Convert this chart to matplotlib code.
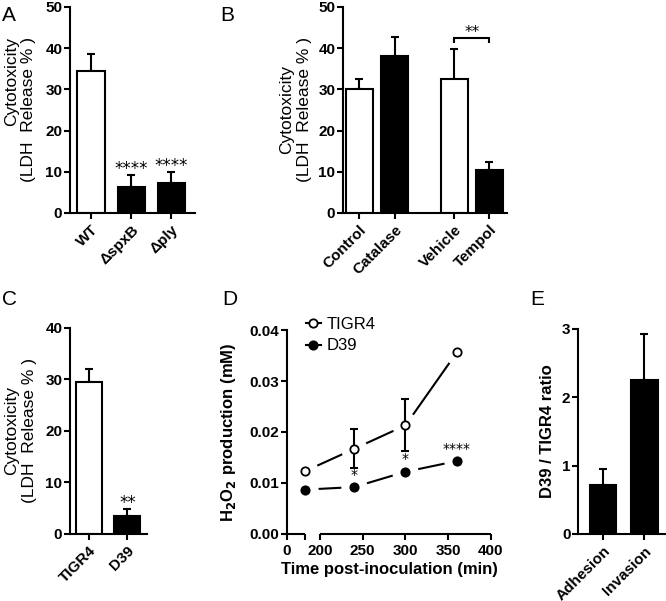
import matplotlib
matplotlib.use('Agg')
import matplotlib.pyplot as plt
from matplotlib.lines import Line2D
import numpy as np

plt.rcParams['font.family'] = ['Liberation Sans', 'DejaVu Sans']
plt.rcParams['font.weight'] = 'bold'
plt.rcParams['axes.labelweight'] = 'bold'
plt.rcParams['axes.linewidth'] = 1.5

# panel A
a_labels = ['WT', 'ΔspxB', 'Δply']
a_means = [34.4, 6.2, 7.3]
a_tops = [38.7, 9.1, 9.9]
a_colors = ['white', 'black', 'black']
a_stars = ['', '****', '****']

# panel B
b_labels = ['Control', 'Catalase', 'Vehicle', 'Tempol']
b_pos = [0, 1, 2.7, 3.7]
b_means = [30.2, 38.0, 32.5, 10.4]
b_tops = [32.6, 42.7, 39.9, 12.3]
b_colors = ['white', 'black', 'white', 'black']

# panel C
c_labels = ['TIGR4', 'D39']
c_means = [29.5, 3.4]
c_tops = [32.0, 4.8]
c_colors = ['white', 'black']
c_stars = ['', '**']

# panel D
times = [120, 240, 300, 360]
tigr4 = [0.0123, 0.0167, 0.0213, 0.0356]
tigr4_err = [0, 0.0038, 0.0051, 0]
d39 = [0.0087, 0.0092, 0.0122, 0.0143]
d39_stars = ['', '*', '*', '****']
d_yticks = [0, 0.01, 0.02, 0.03, 0.04]
d_xticks = [0, 120, 200, 250, 300, 350, 400]
d_xticklabels = ['0', '', '200', '250', '300', '350', '400']

# panel E
e_labels = ['Adhesion', 'Invasion']
e_means = [0.71, 2.26]
e_tops = [0.95, 2.93]
e_colors = ['black', 'black']

LW = 1.5
TICK_FS = 11
STAR_FONT = 'DejaVu Sans'


def style(ax):
    ax.spines['top'].set_visible(False)
    ax.spines['right'].set_visible(False)
    ax.tick_params(direction='out', length=4, width=LW, pad=1.5, labelsize=TICK_FS)


def bar_panel(ax, pos, means, tops, colors, labels, width, xlim, ylim, yticks):
    means = np.array(means)
    tops = np.array(tops)
    ax.errorbar(pos, means, yerr=[np.zeros(len(means)), tops - means], fmt='none',
                ecolor='black', elinewidth=LW, capsize=3, capthick=LW, zorder=1.5)
    ax.bar(pos, means, width=width, color=colors, edgecolor='black', linewidth=LW, zorder=2)
    ax.set_xlim(xlim)
    ax.set_ylim(ylim)
    ax.set_yticks(yticks)
    ax.set_xticks(pos)
    ax.set_xticklabels(labels, rotation=45, ha='right', rotation_mode='anchor',
                       fontsize=TICK_FS)
    style(ax)
    ax.tick_params(axis='x', pad=3)


def stars(ax, xs, ys, texts, fs=12, off=1):
    for x, y, t in zip(xs, ys, texts):
        if t:
            ax.annotate(t, (x, y), xytext=(0, off), textcoords='offset points',
                        ha='center', va='baseline', fontsize=fs, family=STAR_FONT,
                        fontweight='normal')


fig = plt.figure(figsize=(6.66, 6.01), dpi=100)

# A
axA = fig.add_axes([0.1051, 0.6456, 0.1877, 0.3428])
bar_panel(axA, [0, 1, 2], a_means, a_tops, a_colors, a_labels, 0.68,
          (-0.525, 2.59), (0, 50), range(0, 51, 10))
stars(axA, [0, 1, 2], a_tops, a_stars)
axA.set_ylabel('Cytotoxicity\n(LDH  Release % )', fontsize=12.5, fontweight='normal',
               multialignment='right')
axA.yaxis.set_label_coords(-0.27, 0.5)

# B
axB = fig.add_axes([0.5150, 0.6456, 0.2462, 0.3428])
bar_panel(axB, b_pos, b_means, b_tops, b_colors, b_labels, 0.77,
          (-0.47, 4.2), (0, 50), range(0, 51, 10))
x1, x2 = b_pos[2], b_pos[3]
axB.plot([x1, x1, x2, x2], [41.6, 42.4, 42.4, 41.6], color='black', lw=LW,
         solid_joinstyle='miter')
axB.text((x1 + x2) / 2, 42.6, '**', ha='center', va='baseline', fontsize=11,
         family=STAR_FONT, fontweight='normal')
axB.set_ylabel('Cytotoxicity\n(LDH  Release % )', fontsize=12.5, fontweight='normal')
axB.yaxis.set_label_coords(-0.19, 0.5)

# C
axC = fig.add_axes([0.1051, 0.1115, 0.1156, 0.3428])
bar_panel(axC, [0, 1], c_means, c_tops, c_colors, c_labels, 0.675,
          (-0.49, 1.51), (0, 40), range(0, 41, 10))
stars(axC, [0, 1], c_tops, c_stars, fs=12)
axC.set_ylabel('Cytotoxicity\n(LDH  Release % )', fontsize=12.5, fontweight='normal')
axC.yaxis.set_label_coords(-0.43, 0.5)

# D  (broken time axis)
brk_t = [-1000, 0, 120, 200, 400, 2000]
brk_u = [-150, 0, 18, 33, 204, 204 + 1600 * 171 / 200]


def fwd(t):
    return np.interp(t, brk_t, brk_u)


def inv(u):
    return np.interp(u, brk_u, brk_t)


axD = fig.add_axes([0.4309, 0.1115, 0.3063, 0.3394])
axD.set_xscale('function', functions=(fwd, inv))
axD.set_xlim(0, 400)
axD.set_ylim(0, 0.04)
axD.plot(times, tigr4, color='black', lw=LW, zorder=2)
axD.plot(times, d39, color='black', lw=LW, zorder=2)
# white halo so the connecting lines stop short of each marker
axD.plot(times, tigr4, 'o', ms=19, mfc='white', mec='none', zorder=2.2)
axD.plot(times, d39, 'o', ms=19, mfc='white', mec='none', zorder=2.2)
axD.errorbar(times, tigr4, yerr=tigr4_err, fmt='none', ecolor='black',
             elinewidth=LW, capsize=3.2, capthick=LW, zorder=2.3)
axD.plot(times, tigr4, 'o', ms=6, mfc='white', mec='black', mew=1.3, zorder=2.5)
axD.plot(times, d39, 'o', ms=6, mfc='black', mec='black', mew=1.3, zorder=2.5)
stars(axD, times, d39, d39_stars, fs=10, off=6)
axD.spines['bottom'].set_visible(False)
axD.plot([0, 120], [0, 0], color='black', lw=LW, clip_on=False, solid_capstyle='butt')
axD.plot([200, 400], [0, 0], color='black', lw=LW, clip_on=False, solid_capstyle='butt')
axD.set_xticks(d_xticks, labels=d_xticklabels)
axD.set_yticks(d_yticks, labels=['%.2f' % v for v in d_yticks])
style(axD)
axD.tick_params(axis='x', pad=3)
axD.set_xlabel('Time post-inoculation (min)', fontsize=12)
axD.xaxis.set_label_coords(0.5, -0.137)
axD.set_ylabel('H$_\\mathbf{2}$O$_\\mathbf{2}$ production (mM)', fontsize=12)
axD.yaxis.set_label_coords(-0.24, 0.5)
handles = [Line2D([], [], color='black', lw=LW, marker='o', ms=6, mfc='white', mec='black', mew=1.3),
           Line2D([], [], color='black', lw=LW, marker='o', ms=6, mfc='black', mec='black', mew=1.3)]
axD.legend(handles, ['TIGR4', 'D39'], loc='upper left', bbox_to_anchor=(0.093, 1.065),
           frameon=False, prop={'size': 12, 'weight': 'normal'}, handlelength=0.9,
           handletextpad=0.35, labelspacing=0.4, borderpad=0, borderaxespad=0)

# E
axE = fig.add_axes([0.8679, 0.1115, 0.1321, 0.3411])
bar_panel(axE, [0, 1], e_means, e_tops, e_colors, e_labels, 0.64,
          (-0.6, 1.52), (0, 3), range(0, 4))
axE.set_ylabel('D39 / TIGR4 ratio', fontsize=12)
axE.yaxis.set_label_coords(-0.26, 0.5)

# panel letters
for x, y, s in [(2, 6, 'A'), (220, 6, 'B'), (2, 290, 'C'), (222, 290, 'D'), (530, 290, 'E')]:
    fig.text(x / 666, 1 - y / 601, s, fontsize=15, fontweight='normal', ha='left', va='top')

fig.savefig('out.png', dpi=100)
